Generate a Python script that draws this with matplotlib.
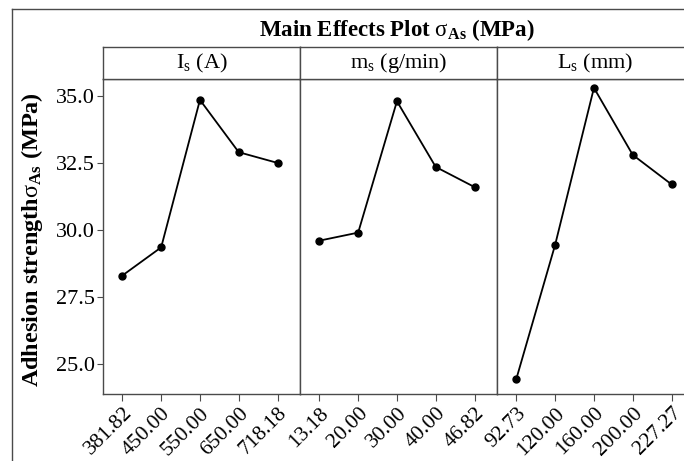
import matplotlib
matplotlib.use("Agg")
import matplotlib.pyplot as plt
from matplotlib.lines import Line2D

plt.rcParams['font.family'] = ['Liberation Serif', 'DejaVu Serif']
plt.rcParams['mathtext.fontset'] = 'custom'
plt.rcParams['mathtext.rm'] = 'Liberation Serif'
plt.rcParams['mathtext.it'] = 'Liberation Serif:italic'
plt.rcParams['mathtext.bf'] = 'Liberation Serif:bold'

# factor levels and mean adhesion strength
factors = [r"I$_\mathrm{s}$ (A)", r"m$_\mathrm{s}$ (g/min)", r"L$_\mathrm{s}$ (mm)"]
levels_is = ["381.82", "450.00", "550.00", "650.00", "718.18"]
levels_ms = ["13.18", "20.00", "30.00", "40.00", "46.82"]
levels_ls = ["92.73", "120.00", "160.00", "200.00", "227.27"]
means_is = [28.3, 29.35, 34.85, 32.9, 32.5]
means_ms = [29.6, 29.9, 34.8, 32.35, 31.6]
means_ls = [24.45, 29.45, 35.3, 32.8, 31.7]
yticks = [25.0, 27.5, 30.0, 32.5, 35.0]

levels = [levels_is, levels_ms, levels_ls]
means = [means_is, means_ms, means_ls]

W, H = 684, 461
fig = plt.figure(figsize=(W / 100, H / 100), dpi=100)

spine_col = '#4a4a4a'
x0, pw = 103, 197
top, bot = 79, 394
strip_top = 47

for i in range(3):
    left = (x0 + i * pw) / W
    ax = fig.add_axes([left, 1 - bot / H, pw / W, (bot - top) / H])
    ax.plot(range(len(means[i])), means[i], color='black', lw=1.3,
            marker='o', ms=5, mfc='black', mec='black')
    ax.set_xlim(-0.5, 4.58)
    ax.set_ylim(23.88, 35.63)
    ax.set_xticks(range(len(levels[i])))
    ax.set_xticklabels(levels[i], rotation=45, ha='right', rotation_mode='anchor',
                       fontsize=15.5)
    ax.tick_params(axis='x', length=5, color=spine_col, pad=2)
    for s in ax.spines.values():
        s.set_color(spine_col)
        s.set_linewidth(1.0)
    if i == 0:
        ax.set_yticks(yticks)
        ax.set_yticklabels([f"{v:.1f}" for v in yticks], fontsize=16)
        ax.tick_params(axis='y', length=4, color=spine_col, pad=2)
    else:
        ax.set_yticks([])

    # strip header
    sax = fig.add_axes([left, 1 - top / H, pw / W, (top - strip_top) / H])
    sax.set_xticks([])
    sax.set_yticks([])
    for s in sax.spines.values():
        s.set_color(spine_col)
        s.set_linewidth(1.0)
    sax.text(0.5, 0.5, factors[i], ha='center', va='center', fontsize=16,
             transform=sax.transAxes)

fig.text(397 / W, 1 - 30 / H, r"Main Effects Plot $\mathrm{\sigma}_{\mathbf{As}}$ (MPa)",
         ha='center', va='center', fontsize=16.5, fontweight='bold')
fig.text(32 / W, 1 - 240 / H, r"Adhesion strength$\mathrm{\sigma}_{\mathbf{As}}$ (MPa)",
         ha='center', va='center', rotation=90, fontsize=17.5, fontweight='bold')

# outer frame (left and top edges visible)
fig.add_artist(Line2D([12 / W, 12 / W], [0, 1 - 9 / H], transform=fig.transFigure,
                      color=spine_col, lw=1.0))
fig.add_artist(Line2D([12 / W, 1], [1 - 9 / H, 1 - 9 / H], transform=fig.transFigure,
                      color=spine_col, lw=1.0))

fig.savefig("out.png", dpi=100)
